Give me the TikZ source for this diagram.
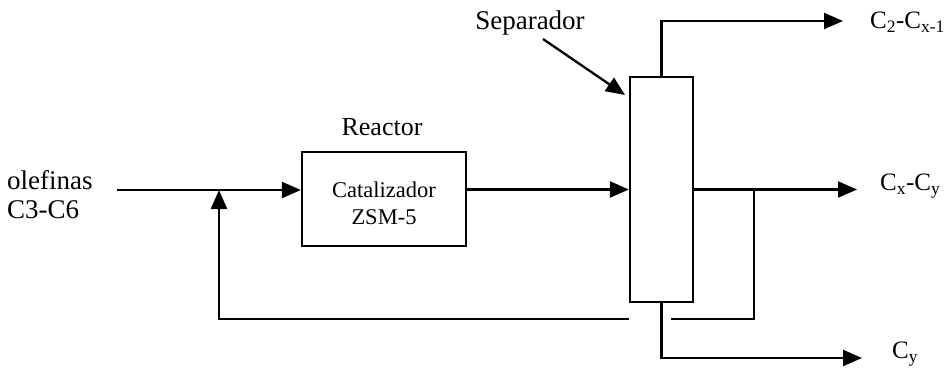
\documentclass[tikz,border=0pt]{standalone}
\usepackage{fontspec}
\setmainfont{Liberation Serif}
\usetikzlibrary{arrows.meta,calc}
\begin{document}
\begin{tikzpicture}[x=1pt,y=-1pt,
  line/.style={line width=2.3pt},
  arr/.style={line, -{Triangle[length=19pt,width=16pt]}},
  blk/.style={draw, line width=2.3pt, inner sep=0pt},
  lbl/.style={font=\fontsize{27}{29}\selectfont, inner sep=0pt},
  clbl/.style={font=\fontsize{25}{29}\selectfont, inner sep=0pt, anchor=west},
  inlbl/.style={font=\fontsize{22.5}{27}\selectfont, inner sep=0pt, align=center}
]
\useasboundingbox (0,0) rectangle (948,369);
% blocks
\node[blk, minimum width=164pt, minimum height=94pt] (reactor) at (384,199) {};
\node[blk, minimum width=63pt, minimum height=225pt] (sep) at (661.5,189.5) {};
% labels
\node[inlbl] (cat) at (384,203) {Catalizador\\ZSM-5};
\node[lbl, font=\fontsize{26}{29}\selectfont] (reactlbl) at (382,127) {Reactor};
\node[lbl] (seplbl) at (530,23) {Separador};
\node[lbl, anchor=west, align=left] (feed) at (7,195) {olefinas\\C3-C6};
\node[clbl] (top) at (870,22) {C\textsubscript{2}-C\textsubscript{x-1}};
\node[clbl] (mid) at (880,186) {C\textsubscript{x}-C\textsubscript{y}};
\node[clbl] (bot) at (892,354) {C\textsubscript{y}};
% coordinates
\coordinate (fs) at (117,190);
\coordinate (junc) at (219,190);
\coordinate (rin) at (reactor.west |- fs);
\coordinate (rout) at (reactor.east |- sep.west);
\coordinate (topend) at (843,21);
\coordinate (midend) at (857,189.5);
\coordinate (botend) at (862,358);
\coordinate (br) at (754,189.5);
\coordinate (brlow) at (754,319);
\coordinate (gapR) at (671,319);
\coordinate (gapL) at (629,319);
\coordinate (recyc) at (219,319);
\coordinate (sa) at (543,39);
\coordinate (sb) at (625,95);
% connectors
\draw[arr] (fs) -- (rin);
\draw[arr] (rout) -- (sep.west);
\draw[arr] (sep.north) |- (topend);
\draw[arr] (sep.east |- midend) -- (midend);
\draw[arr] (sep.south) |- (botend);
\draw[line] (br) -- (brlow) -- (gapR);
\draw[arr] (gapL) -- (recyc) -- (junc);
\draw[arr] (sa) -- (sb);
\end{tikzpicture}
\end{document}
